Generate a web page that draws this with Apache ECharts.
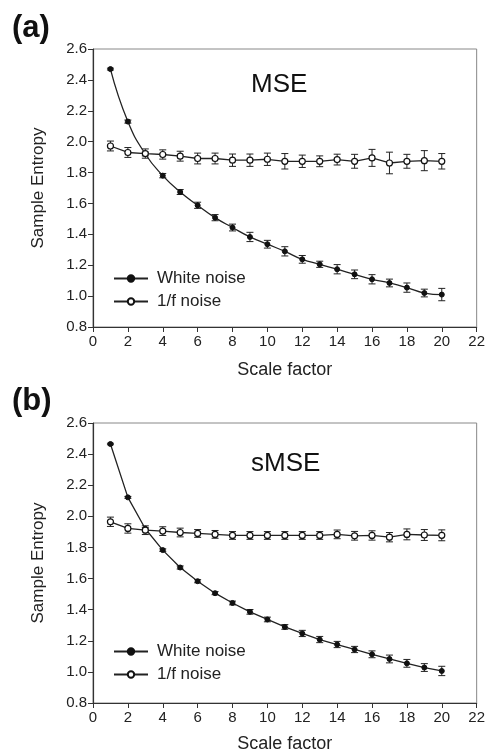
<!DOCTYPE html>
<html>
<head>
<meta charset="utf-8">
<script src="https://cdn.jsdelivr.net/npm/echarts@6/dist/echarts.min.js"></script>
<style>
  html, body { margin: 0; padding: 0; background: #fff; }
  #chart { width: 488px; height: 756px; }
</style>
</head>
<body>
<div id="chart"></div>
<script>
// scale factors 1..20
const scales = [1, 2, 3, 4, 5, 6, 7, 8, 9, 10, 11, 12, 13, 14, 15, 16, 17, 18, 19, 20];

// (a) MSE
const mseWhite = [2.47, 2.13, 1.92, 1.78, 1.674, 1.588, 1.508, 1.444, 1.383, 1.336, 1.29, 1.238, 1.206, 1.174, 1.141, 1.109, 1.085, 1.055, 1.02, 1.01];
const mseWhiteErr = [0.006, 0.01, 0.012, 0.014, 0.016, 0.02, 0.02, 0.022, 0.03, 0.025, 0.03, 0.025, 0.02, 0.03, 0.028, 0.03, 0.025, 0.03, 0.025, 0.04];
const msePink = [1.972, 1.93, 1.923, 1.917, 1.906, 1.891, 1.891, 1.88, 1.88, 1.886, 1.873, 1.873, 1.873, 1.884, 1.873, 1.895, 1.862, 1.873, 1.877, 1.873];
const msePinkErr = [0.032, 0.032, 0.03, 0.03, 0.032, 0.035, 0.035, 0.04, 0.04, 0.04, 0.05, 0.04, 0.035, 0.035, 0.045, 0.055, 0.07, 0.045, 0.065, 0.05];

// (b) sMSE
const smseWhite = [2.465, 2.122, 1.92, 1.783, 1.671, 1.583, 1.506, 1.443, 1.386, 1.337, 1.289, 1.247, 1.208, 1.176, 1.144, 1.113, 1.083, 1.055, 1.028, 1.006];
const smseWhiteErr = [0.005, 0.006, 0.007, 0.008, 0.01, 0.01, 0.01, 0.012, 0.015, 0.015, 0.015, 0.02, 0.02, 0.02, 0.02, 0.022, 0.025, 0.025, 0.025, 0.03];
const smsePink = [1.965, 1.922, 1.911, 1.905, 1.896, 1.89, 1.884, 1.877, 1.877, 1.877, 1.877, 1.877, 1.877, 1.884, 1.875, 1.877, 1.866, 1.884, 1.88, 1.878];
const smsePinkErr = [0.03, 0.03, 0.028, 0.028, 0.028, 0.025, 0.025, 0.025, 0.025, 0.025, 0.025, 0.025, 0.025, 0.028, 0.028, 0.03, 0.03, 0.035, 0.035, 0.035];

const FONT = 'Liberation Sans, Arial, sans-serif';
const INK = '#222';

const chart = echarts.init(document.getElementById('chart'));

function pairs(vals) {
  return scales.map((s, i) => [s, vals[i]]);
}
function errData(vals, errs) {
  return scales.map((s, i) => [s, vals[i] - errs[i], vals[i] + errs[i]]);
}
function errSeries(idx, vals, errs) {
  return {
    type: 'custom',
    xAxisIndex: idx,
    yAxisIndex: idx,
    silent: true,
    z: 1,
    data: errData(vals, errs),
    encode: { x: 0, y: [1, 2] },
    renderItem: (params, api) => {
      const lo = api.coord([api.value(0), api.value(1)]);
      const hi = api.coord([api.value(0), api.value(2)]);
      const w = 3.5;
      const st = { stroke: INK, lineWidth: 1 };
      return {
        type: 'group',
        children: [
          { type: 'line', shape: { x1: lo[0], y1: lo[1], x2: hi[0], y2: hi[1] }, style: st },
          { type: 'line', shape: { x1: lo[0] - w, y1: lo[1], x2: lo[0] + w, y2: lo[1] }, style: st },
          { type: 'line', shape: { x1: hi[0] - w, y1: hi[1], x2: hi[0] + w, y2: hi[1] }, style: st }
        ]
      };
    }
  };
}
function lineSeries(idx, name, vals, filled, smooth) {
  return {
    type: 'line',
    name: name,
    xAxisIndex: idx,
    yAxisIndex: idx,
    data: pairs(vals),
    smooth: smooth,
    z: 3,
    symbol: 'circle',
    symbolSize: filled ? 5 : 6,
    showSymbol: true,
    lineStyle: { color: INK, width: 1.3 },
    itemStyle: filled
      ? { color: '#111', borderColor: '#111', borderWidth: 1 }
      : { color: '#fff', borderColor: '#111', borderWidth: 1.2 }
  };
}
function xAxis(idx, gap) {
  return {
    type: 'value',
    gridIndex: idx,
    min: 0,
    max: 22,
    interval: 2,
    name: 'Scale factor',
    nameLocation: 'middle',
    nameGap: gap,
    nameTextStyle: { fontFamily: FONT, fontSize: 18, color: INK },
    axisLine: { lineStyle: { color: '#333', width: 1.2 } },
    axisTick: { inside: false, length: 5, lineStyle: { color: '#333' } },
    axisLabel: { fontFamily: FONT, fontSize: 15, color: INK, margin: 7 },
    splitLine: { show: false }
  };
}
function yAxis(idx) {
  return {
    type: 'value',
    gridIndex: idx,
    min: 0.8,
    max: 2.6,
    interval: 0.2,
    name: 'Sample Entropy',
    nameLocation: 'middle',
    nameGap: 46,
    nameTextStyle: { fontFamily: FONT, fontSize: 17, color: INK },
    axisLine: { lineStyle: { color: '#333', width: 1.2 } },
    axisTick: { inside: false, length: 5, lineStyle: { color: '#333' } },
    axisLabel: { fontFamily: FONT, fontSize: 15, color: INK, margin: 6, formatter: v => v.toFixed(1) },
    splitLine: { show: false }
  };
}
function legend(top) {
  return {
    orient: 'vertical',
    left: 108,
    top: top,
    itemWidth: 34,
    itemHeight: 8,
    itemGap: 6,
    data: ['White noise', '1/f noise'],
    selectedMode: false,
    textStyle: { fontFamily: FONT, fontSize: 17, color: INK, padding: [0, 0, 0, 4] }
  };
}

chart.setOption({
  animation: false,
  backgroundColor: '#fff',
  title: [
    { text: '(a)', left: 7, top: 8, textStyle: { fontFamily: FONT, fontSize: 31, fontWeight: 'bold', color: '#111' } },
    { text: 'MSE', left: 246, top: 67, textStyle: { fontFamily: FONT, fontSize: 26, fontWeight: 'normal', color: '#111' } },
    { text: '(b)', left: 7, top: 381, textStyle: { fontFamily: FONT, fontSize: 31, fontWeight: 'bold', color: '#111' } },
    { text: 'sMSE', left: 246, top: 446, textStyle: { fontFamily: FONT, fontSize: 26, fontWeight: 'normal', color: '#111' } }
  ],
  legend: [legend(265), legend(638)],
  grid: [
    { left: 93, top: 49, width: 387, height: 278, show: true, borderColor: '#888', borderWidth: 1 },
    { left: 93, top: 423, width: 386, height: 280, show: true, borderColor: '#888', borderWidth: 1 }
  ],
  xAxis: [xAxis(0, 34), xAxis(1, 32)],
  yAxis: [yAxis(0), yAxis(1)],
  series: [
    errSeries(0, mseWhite, mseWhiteErr),
    errSeries(0, msePink, msePinkErr),
    lineSeries(0, 'White noise', mseWhite, true, true),
    lineSeries(0, '1/f noise', msePink, false, false),
    errSeries(1, smseWhite, smseWhiteErr),
    errSeries(1, smsePink, smsePinkErr),
    lineSeries(1, 'White noise', smseWhite, true, false),
    lineSeries(1, '1/f noise', smsePink, false, false)
  ]
});
</script>
</body>
</html>
